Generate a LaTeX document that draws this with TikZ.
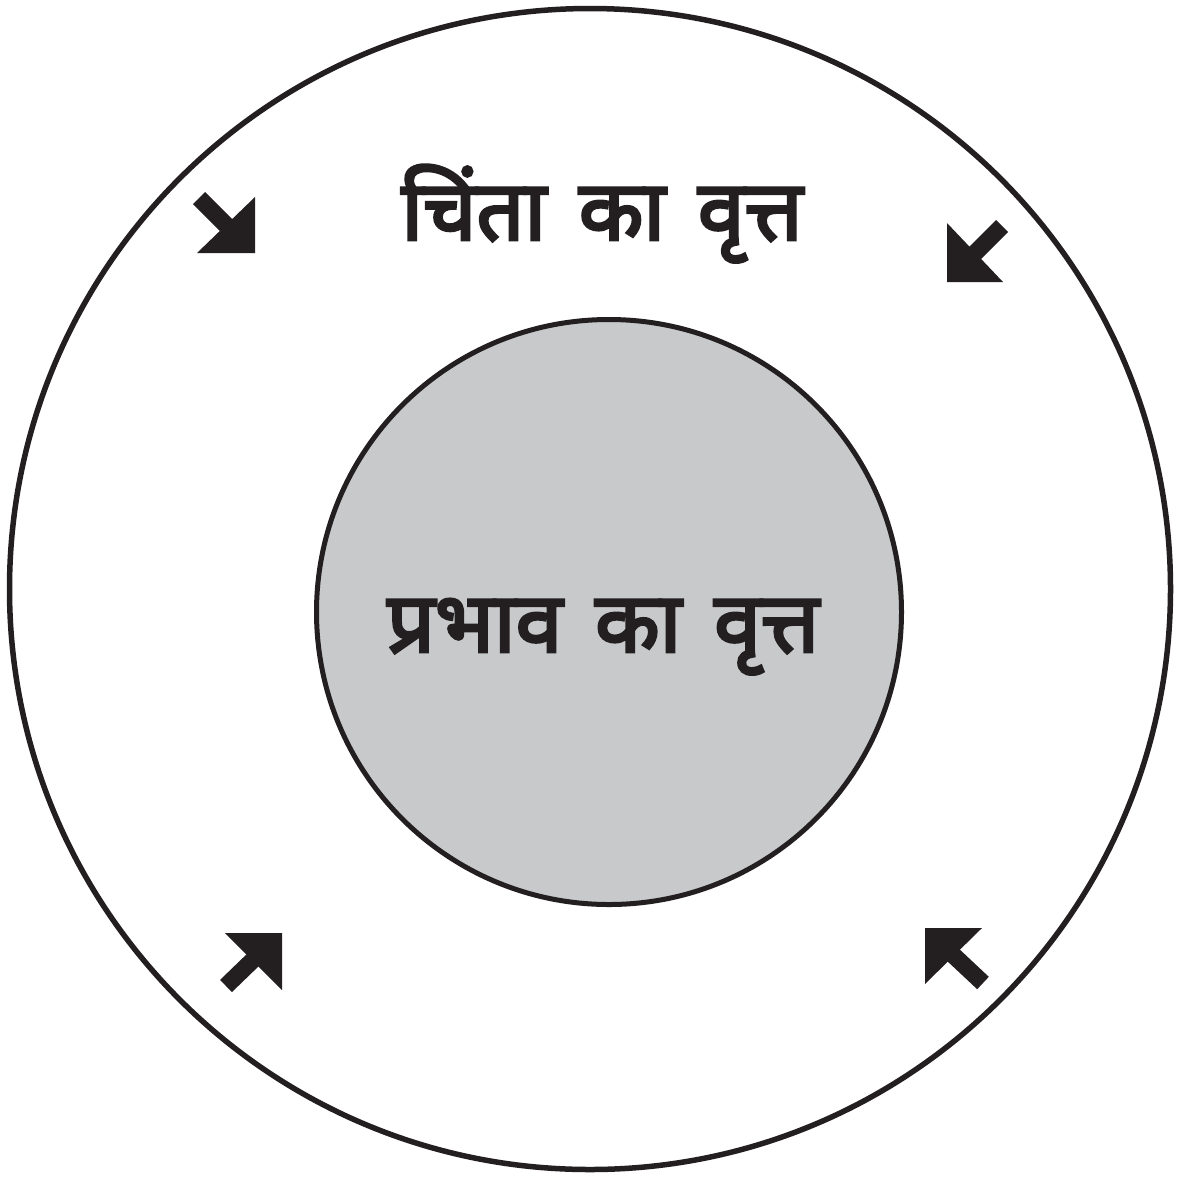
\documentclass[tikz,border=0pt]{standalone}
\usepackage{fontspec}
\newfontfamily\deva[Script=Devanagari, FakeBold=3.5, WordSpace=1.5]{Noto Sans}
\usetikzlibrary{arrows.meta}
\definecolor{ink}{RGB}{35,31,32}
\definecolor{grey}{RGB}{200,201,203}
\tikzset{
  ring/.style={circle, draw=ink, inner sep=0pt},
  lbl/.style={text=ink, font=\deva\fontsize{84}{92}\selectfont, inner sep=0pt},
  shaft/.style={draw=ink, line width=17pt},
  head/.style={fill=ink}
}
\begin{document}
\begin{tikzpicture}[x=1pt,y=-1pt]
\useasboundingbox (0,0) rectangle (1180,1176);
\node[ring, line width=5.5pt, minimum size=1161pt] (outer) at (590,589) {};
\node[ring, line width=5pt, fill=grey, minimum size=585pt] (inner) at (609,612) {};
\node[lbl, anchor=base] (worry) at (602,240) {चिंता का वृत्त};
\node[lbl, anchor=base] (influence) at (603,652) {प्रभाव का वृत्त};
% arrow 1 (top-left, SE)
\coordinate (a1s) at (199,198); \coordinate (a1e) at (232,231);
\draw[shaft] (a1s) -- (a1e);
\fill[head] (255,197) -- (255,253) -- (197,253) -- cycle;
% arrow 2 (top-right, SW)
\coordinate (a2s) at (1002,226); \coordinate (a2e) at (971,257);
\draw[shaft] (a2s) -- (a2e);
\fill[head] (947,223) -- (947,282) -- (1003,282) -- cycle;
% arrow 3 (bottom-left, NE)
\coordinate (a3s) at (226,986); \coordinate (a3e) at (256,957);
\draw[shaft] (a3s) -- (a3e);
\fill[head] (225,933) -- (282,933) -- (282,990) -- cycle;
% arrow 4 (bottom-right, NW)
\coordinate (a4s) at (983,983); \coordinate (a4e) at (951,953);
\draw[shaft] (a4s) -- (a4e);
\fill[head] (925,928) -- (982,928) -- (925,984) -- cycle;
\end{tikzpicture}
\end{document}
